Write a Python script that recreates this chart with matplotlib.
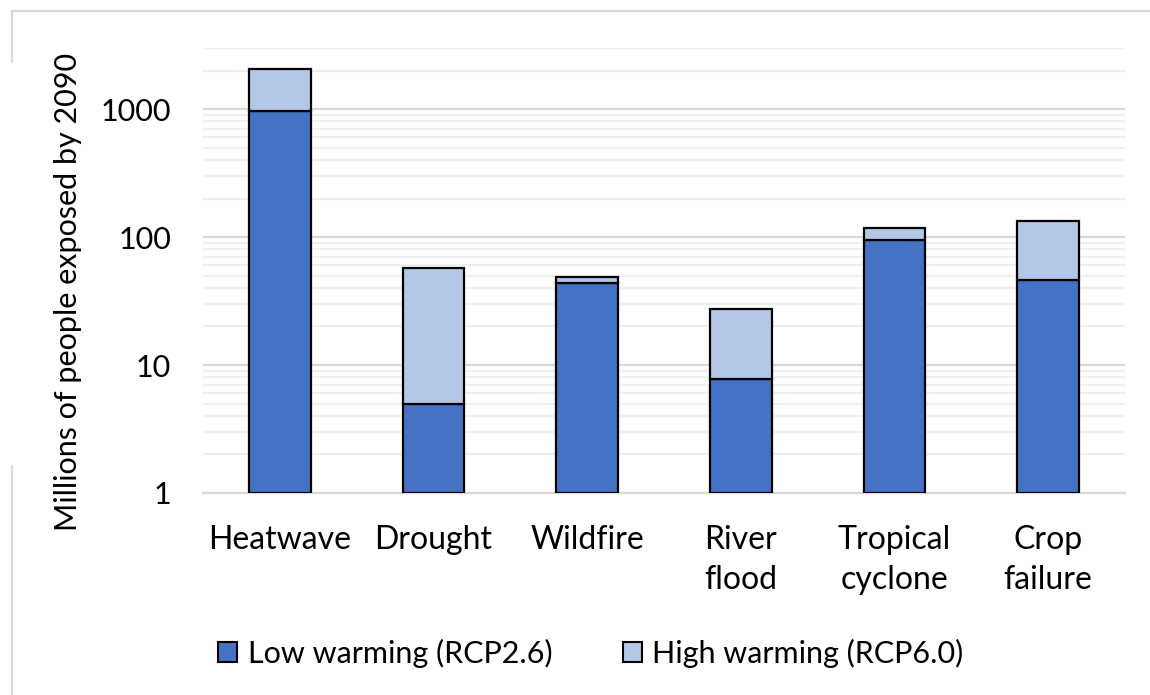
import matplotlib
matplotlib.use("Agg")
import matplotlib.pyplot as plt
from matplotlib.ticker import LogLocator, FixedLocator, NullFormatter
from matplotlib.patches import Patch
from matplotlib.lines import Line2D

categories = ["Heatwave", "Drought", "Wildfire", "River\nflood", "Tropical\ncyclone", "Crop\nfailure"]
low_warming = [970, 5, 44, 7.8, 94, 46]      # RCP2.6
high_warming = [2050, 57, 49, 27.5, 117, 134]  # RCP6.0 (bar tops)
y_ticks = [1, 10, 100, 1000]
y_tick_labels = ["1", "10", "100", "1000"]
y_min, y_max = 1, 3000

LOW_COLOR = "#4472C4"
HIGH_COLOR = "#B4C7E7"
FONT = "Lato"

plt.rcParams["font.family"] = [FONT, "DejaVu Sans"]

fig = plt.figure(figsize=(11.5, 6.95), dpi=100)
ax = fig.add_axes([203 / 1150, 1 - 493 / 695, 922 / 1150, 445 / 695])
ax.set_yscale("log")
ax.set_ylim(y_min, y_max)

x = list(range(len(categories)))
extra = [h - l for h, l in zip(high_warming, low_warming)]
width = 0.4
ax.bar(x, [l - y_min for l in low_warming], bottom=y_min, width=width,
       color=LOW_COLOR, edgecolor="black", linewidth=1.6, zorder=3)
ax.bar(x, extra, bottom=low_warming, width=width,
       color=HIGH_COLOR, edgecolor="black", linewidth=1.6, zorder=3)
ax.set_xlim(-0.5, len(categories) - 0.5)

ax.yaxis.set_major_locator(FixedLocator(y_ticks))
ax.set_yticklabels(y_tick_labels)
ax.yaxis.set_minor_locator(LogLocator(base=10, subs=range(2, 10), numticks=20))
ax.yaxis.set_minor_formatter(NullFormatter())
ax.grid(True, which="major", axis="y", color="#d9d9d9", linewidth=1.6, zorder=0)
ax.grid(True, which="minor", axis="y", color="#efefef", linewidth=1.6, zorder=0)

ax.set_xticks(x)
ax.set_xticklabels(categories, fontsize=23, linespacing=1.42)
ax.tick_params(axis="x", length=0, pad=23)
ax.tick_params(axis="y", which="both", length=0, pad=23, labelsize=22)
for s in ["top", "right", "left"]:
    ax.spines[s].set_visible(False)
ax.spines["bottom"].set_color("#d9d9d9")
ax.spines["bottom"].set_linewidth(1.6)

fig.text(68 / 1150, 1 - 292 / 695, "Millions of people exposed by 2090", rotation=90,
         ha="center", va="center", fontsize=22)

handles = [Patch(facecolor=LOW_COLOR, edgecolor="black", linewidth=1.5),
           Patch(facecolor=HIGH_COLOR, edgecolor="black", linewidth=1.5)]
fig.legend(handles, ["Low warming (RCP2.6)", "High warming (RCP6.0)"],
           loc="center", bbox_to_anchor=(591 / 1150, 1 - 653 / 695), ncol=2,
           frameon=False, fontsize=22, handlelength=0.62, handleheight=0.62,
           handletextpad=0.35, columnspacing=2.3, borderaxespad=0)

# figure frame (cropped screenshot border)
border = "#d9d9d9"
fig.add_artist(Line2D([12 / 1150, 1], [1 - 11 / 695] * 2, color=border, lw=1.6))
fig.add_artist(Line2D([12 / 1150] * 2, [1 - 11 / 695, 1 - 62 / 695], color=border, lw=1.6))
fig.add_artist(Line2D([12 / 1150] * 2, [1 - 466 / 695, 0], color=border, lw=1.6))

fig.savefig("out.png", dpi=100, facecolor="white")
